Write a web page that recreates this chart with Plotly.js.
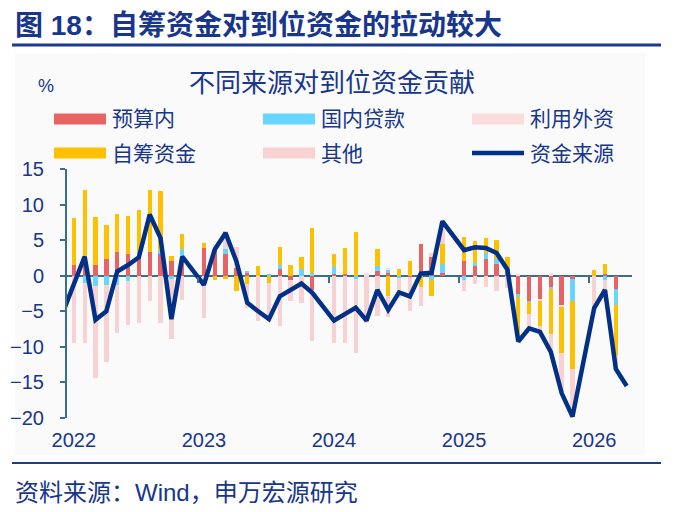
<!DOCTYPE html>
<html>
<head>
<meta charset="utf-8">
<script src="https://cdn.plot.ly/plotly-3.0.1.min.js"></script>
<style>html,body{margin:0;padding:0;background:#fff;}#chart{width:675px;height:512px;}</style>
</head>
<body>
<div id="chart"></div>
<script>
// ---- data (month, % contribution) ----
const months = [
 '2022-01','2022-02','2022-03','2022-04','2022-05','2022-06','2022-07','2022-08','2022-09','2022-10','2022-11','2022-12',
 '2023-02','2023-03','2023-04','2023-05','2023-06','2023-07','2023-08','2023-09','2023-10','2023-11','2023-12',
 '2024-02','2024-03','2024-04','2024-05','2024-06','2024-07','2024-08','2024-09','2024-10','2024-11','2024-12',
 '2025-02','2025-03','2025-04','2025-05','2025-06','2025-07','2025-08','2025-09','2025-10','2025-11','2025-12',
 '2026-02','2026-03','2026-04','2026-05'];
const budget = [null,1.55,1.55,1.55,2.35,3.3,3.0,2.5,3.3,3.1,2.0,2.7,
 3.9,3.8,3.05,1.1,0.35,0,0,1.0,-0.55,0,-2.0,
 0.3,0.3,0,0,0.7,0.4,0,-0.2,4.5,2.6,0.35,
 2.1,1.3,2.35,1.7,0.8,-2.5,-3.5,-3.3,-1.6,-4.1,-0.4,
 0,0.3,-1.9,null];
const loans = [null,0,-1.0,-1.5,-1.27,-1.27,-0.8,0,0,0.5,-0.5,1.0,
 0,0,0.75,0,0.3,0,0.2,0.5,0,1.0,0.4,
 0.9,0,-0.4,0,0.7,0.45,-0.3,0,0,-0.55,1.3,
 -0.65,0.5,0.85,0.65,0.4,-0.5,-0.15,0,-0.3,0,-3.2,
 0,-0.55,-2.2,null];
const foreign = [null,0,0,0,0,0,0,0,0,0,0,0,
 0,0,0,0,0,0,0,0,0,0,0,
 0,0,0,0.4,0,0.2,0,0,0,0,0,
 0,0,0,0,0,0.2,0,-0.3,0.4,-0.3,0,
 0,0,0,null];
const selfRaised = [null,6.55,10.55,6.75,4.75,5.4,5.4,6.7,8.8,8.3,0.8,2.2,
 0.7,-0.6,-0.5,-2.1,-1.1,1.4,-1.0,2.5,1.45,1.6,6.3,
 1.9,3.6,6.2,-0.1,2.3,-2.9,0.9,2.0,-1.6,-2.35,2.8,
 3.4,3.1,2.1,2.7,1.4,-6.2,-1.7,-3.4,-6.3,-6.5,-9.5,
 0.75,1.35,-7.0,null];
const other = [null,-9.5,-8.4,-12.9,-10.8,-6.8,-6.1,-6.6,-3.6,-6.7,-8.4,-3.4,
 -5.9,0.5,2.5,2.9,-3.4,-6.3,-4.6,-7.1,-3.05,-3.9,-7.15,
 -9.5,-9.4,-10.4,-6.6,-5.7,-2.9,-2.9,-4.7,-2.7,0.6,3.0,
 -1.55,-1.1,-1.65,-2.2,-1.7,0,-1.8,-1.0,-2.5,-5.6,-6.7,
 -5.3,-3.1,-2.0,null];
const total = [-5.1,-1.4,2.7,-6.2,-5.0,0.6,1.5,2.6,8.6,5.3,-6.1,2.7,
 -1.3,3.7,6.0,2.0,-3.8,-5.0,-6.1,-2.9,-2.0,-1.1,-2.4,
 -6.3,-5.4,-4.5,-6.3,-2.0,-4.8,-2.35,-2.9,0.3,0.4,7.65,
 3.6,4.0,3.9,3.2,0.85,-9.25,-7.4,-7.9,-10.7,-16.5,-19.8,
 -4.55,-2.0,-13.1,-15.5];
const seriesNames = ['预算内','国内贷款','利用外资','自筹资金','其他','资金来源'];
const yearLabels = ['2022','2023','2024','2025','2026'];

// month index from 2022-01
const xIdx = months.map(m => (parseInt(m.slice(0,4))-2022)*12 + parseInt(m.slice(5,7)) - 1);
const yearTickVals = yearLabels.map(y => (parseInt(y)-2022)*12 + 1);
const yearBoundaries = yearLabels.slice(1).map(y => (parseInt(y)-2022)*12 + 0.5);

const NAVY = '#17368C', AXIS = '#3A6F8C';
const colors = ['#E86464','#66D5FF','#FBDCDC','#FFC000','#F8D2D2','#003087'];
const FONT = 'Liberation Sans, Arial, Noto Sans CJK SC, sans-serif';

const barSeries = [budget, loans, foreign, selfRaised, other];
const traces = barSeries.map((vals,k) => ({
  type:'bar', x:xIdx, y:vals, name:seriesNames[k], width:0.4,
  marker:{color:colors[k], line:{width:0}}, hoverinfo:'skip'
}));
traces.push({type:'scatter', mode:'lines', x:xIdx, y:total, name:seriesNames[5],
  line:{color:colors[5], width:4.5}, hoverinfo:'skip'});

// layout geometry (pixels)
const L=67, T=169, W=565, H=249;
const px = x => (x-L)/W, py = y => (T+H-y)/H;

const shapes = [
  {type:'rect', xref:'paper', yref:'paper', x0:px(15), x1:px(645), y0:py(53), y1:py(455), fillcolor:'#FAFAFA', line:{width:0}, layer:'below'},
  {type:'line', xref:'paper', yref:'paper', x0:px(12), x1:px(661), y0:py(45), y1:py(45), line:{color:'#1C3A8E', width:3}},
  {type:'line', xref:'paper', yref:'paper', x0:px(12), x1:px(661), y0:py(463), y1:py(463), line:{color:'#1C3A8E', width:2}}
];
const annotations = [
  {text:'<b>图 18：自筹资金对到位资金的拉动较大</b>', xref:'paper', yref:'paper', x:px(13), y:py(25), xanchor:'left', yanchor:'middle', showarrow:false, font:{family:FONT, size:28, color:NAVY}},
  {text:'不同来源对到位资金贡献', xref:'paper', yref:'paper', x:px(332), y:py(83), xanchor:'center', yanchor:'middle', showarrow:false, font:{family:FONT, size:26, color:NAVY}},
  {text:'%', xref:'paper', yref:'paper', x:px(46), y:py(86), xanchor:'center', yanchor:'middle', showarrow:false, font:{family:FONT, size:18, color:NAVY}},
  {text:'资料来源：Wind，申万宏源研究', xref:'paper', yref:'paper', x:px(13), y:py(492), xanchor:'left', yanchor:'middle', showarrow:false, font:{family:FONT, size:24, color:NAVY}}
];
// custom legend (3 columns x 2 rows)
const legCols = [54, 263, 472], legRows = [119, 153];
seriesNames.forEach((nm,k) => {
  const cx = legCols[k%3], cy = legRows[Math.floor(k/3)];
  if (k < 5) {
    shapes.push({type:'rect', xref:'paper', yref:'paper', x0:px(cx), x1:px(cx+52), y0:py(cy+5.5), y1:py(cy-5.5), fillcolor:colors[k], line:{width:0}});
  } else {
    shapes.push({type:'line', xref:'paper', yref:'paper', x0:px(cx), x1:px(cx+52), y0:py(cy), y1:py(cy), line:{color:colors[k], width:4.5}});
  }
  annotations.push({text:nm, xref:'paper', yref:'paper', x:px(cx+56), y:py(cy), xanchor:'left', yanchor:'middle', showarrow:false, font:{family:FONT, size:21, color:NAVY}});
});

const xr = [0.37, 52.49];
const layout = {
  width:675, height:512, margin:{l:L, r:675-L-W, t:T, b:512-T-H},
  paper_bgcolor:'#FFFFFF', plot_bgcolor:'rgba(0,0,0,0)',
  barmode:'relative', bargap:0, showlegend:false,
  font:{family:FONT, color:NAVY},
  xaxis:{range:xr, tickvals:yearTickVals, ticktext:yearLabels, ticks:'', showgrid:false, zeroline:false, showline:false,
         tickfont:{family:FONT, size:20, color:NAVY}, ticklabelstandoff:8, fixedrange:true},
  xaxis2:{overlaying:'x', anchor:'free', position:20/35, range:xr, tickvals:yearBoundaries, ticks:'outside', ticklen:6, tickwidth:2,
          tickcolor:AXIS, showticklabels:false, showgrid:false, zeroline:false, showline:false},
  yaxis:{range:[-20,15], tickvals:[15,10,5,0,-5,-10,-15,-20], showgrid:false, zeroline:true, zerolinecolor:AXIS, zerolinewidth:2,
         showline:true, linecolor:AXIS, linewidth:2, ticks:'outside', ticklen:5, tickwidth:2, tickcolor:AXIS,
         tickfont:{family:FONT, size:20, color:NAVY}, ticklabelstandoff:12, fixedrange:true},
  shapes:shapes, annotations:annotations
};
traces.push({type:'scatter', x:[xr[0]], y:[0], xaxis:'x2', mode:'markers', marker:{opacity:0}, hoverinfo:'skip', showlegend:false});
Plotly.newPlot('chart', traces, layout, {staticPlot:true});
</script>
</body>
</html>
